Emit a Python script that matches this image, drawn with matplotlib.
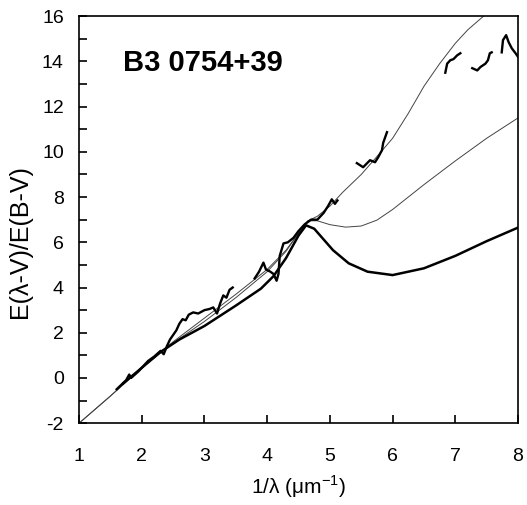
import matplotlib
matplotlib.use("Agg")
import matplotlib.pyplot as plt

plt.rcParams["font.family"] = ["Liberation Sans", "DejaVu Sans"]
plt.rcParams["mathtext.fontset"] = "custom"
plt.rcParams["mathtext.rm"] = "Liberation Sans"
plt.rcParams["axes.unicode_minus"] = False

# ---- smooth model curves ----
thin1_x = [1.0, 1.5, 2.0, 2.5, 3.0, 3.5, 4.0, 4.3, 4.5, 4.65, 4.8, 5.0, 5.2,
           5.5, 5.8, 6.0, 6.25, 6.5, 6.75, 7.0, 7.2, 7.45, 7.6]
thin1_y = [-2.0, -0.8, 0.45, 1.6, 2.65, 3.7, 4.8, 5.65, 6.4, 6.95, 7.15, 7.6,
           8.2, 9.0, 9.95, 10.6, 11.7, 12.9, 13.9, 14.8, 15.4, 16.0, 16.4]

thin2_x = [1.0, 1.5, 2.0, 2.5, 3.0, 3.5, 4.0, 4.3, 4.5, 4.65, 4.8, 5.0, 5.25,
           5.5, 5.75, 6.0, 6.5, 7.0, 7.5, 8.0]
thin2_y = [-2.0, -0.8, 0.45, 1.55, 2.5, 3.55, 4.7, 5.6, 6.4, 6.95, 6.95, 6.78,
           6.67, 6.72, 6.98, 7.45, 8.55, 9.6, 10.6, 11.5]

thick_x = [1.7, 2.0, 2.3, 2.6, 3.0, 3.25, 3.5, 3.9, 4.1, 4.3, 4.5, 4.62, 4.75,
           5.05, 5.3, 5.6, 6.0, 6.5, 7.0, 7.5, 8.0]
thick_y = [-0.25, 0.45, 1.15, 1.7, 2.3, 2.75, 3.2, 3.95, 4.5, 5.3, 6.3, 6.75,
           6.6, 5.65, 5.07, 4.7, 4.55, 4.85, 5.4, 6.05, 6.65]

# ---- observed (noisy) extinction curve, in pieces ----
obs_a_x = [1.6, 1.75, 1.8, 1.83, 1.95, 2.1, 2.2, 2.3, 2.35, 2.4, 2.45, 2.5,
           2.55, 2.6, 2.65, 2.7, 2.75, 2.82, 2.9, 3.0, 3.08, 3.14, 3.2, 3.25,
           3.3, 3.35, 3.4, 3.45]
obs_a_y = [-0.5, -0.1, 0.15, 0.0, 0.3, 0.75, 0.95, 1.2, 1.05, 1.4, 1.7, 1.9,
           2.1, 2.4, 2.6, 2.55, 2.8, 2.9, 2.85, 3.0, 3.05, 3.12, 2.85, 3.3,
           3.65, 3.55, 3.9, 4.0]

obs_b_x = [3.8, 3.87, 3.94, 3.98, 4.05, 4.1, 4.15, 4.18, 4.2, 4.26, 4.33,
           4.42, 4.5, 4.6, 4.7, 4.8, 4.9, 4.97, 5.03, 5.08, 5.12]
obs_b_y = [4.4, 4.7, 5.1, 4.8, 4.7, 4.6, 4.3, 4.6, 5.4, 5.95, 6.0, 6.2, 6.5,
           6.8, 7.0, 7.0, 7.3, 7.6, 7.9, 7.7, 7.85]

obs_c_x = [5.43, 5.53, 5.64, 5.72, 5.77, 5.83, 5.85, 5.91]
obs_c_y = [9.5, 9.32, 9.63, 9.54, 9.76, 10.07, 10.4, 10.87]

obs_d_x = [6.84, 6.87, 6.92, 6.97, 7.03, 7.08]
obs_d_y = [13.5, 13.9, 14.05, 14.1, 14.27, 14.36]

obs_e_x = [7.27, 7.35, 7.4, 7.48, 7.52, 7.55, 7.58]
obs_e_y = [13.7, 13.6, 13.75, 13.9, 14.05, 14.36, 14.4]

obs_f_x = [7.74, 7.76, 7.81, 7.85, 7.9, 7.96, 8.0]
obs_f_y = [14.4, 14.94, 15.16, 14.85, 14.58, 14.36, 14.2]

fig = plt.figure(figsize=(5.27, 5.05), dpi=100)
ax = fig.add_axes([0.15, 0.162, 0.833, 0.806])

ax.plot(thin1_x, thin1_y, color="#444444", lw=0.7)
ax.plot(thin2_x, thin2_y, color="#444444", lw=0.7)
ax.plot(thick_x, thick_y, color="black", lw=1.8)
for ox, oy in [(obs_a_x, obs_a_y), (obs_b_x, obs_b_y), (obs_c_x, obs_c_y),
               (obs_d_x, obs_d_y), (obs_e_x, obs_e_y), (obs_f_x, obs_f_y)]:
    ax.plot(ox, oy, color="black", lw=1.7)

ax.set_xlim(1, 8)
ax.set_ylim(-2, 16)
ax.set_xticks(range(1, 9))
ax.set_yticks(range(-2, 17, 2))
ax.set_yticks(range(-1, 16, 2), minor=True)
ax.tick_params(which="both", direction="in", length=6, width=1.2,
               top=False, right=False, labelsize=14)
ax.tick_params(axis="x", pad=18)
ax.tick_params(axis="y", pad=11)
for s in ax.spines.values():
    s.set_linewidth(1.2)

ax.set_xlabel(r"1/λ (μm$^{\mathregular{-1}}$)", fontsize=15, labelpad=6)
ax.set_ylabel("E(λ-V)/E(B-V)", fontsize=18)
ax.yaxis.set_label_coords(-0.107, 0.445)

ax.text(0.1, 0.885, "B3 0754+39", transform=ax.transAxes,
        fontsize=21, fontweight="bold", va="center", ha="left")

fig.savefig("out.png", dpi=100)
